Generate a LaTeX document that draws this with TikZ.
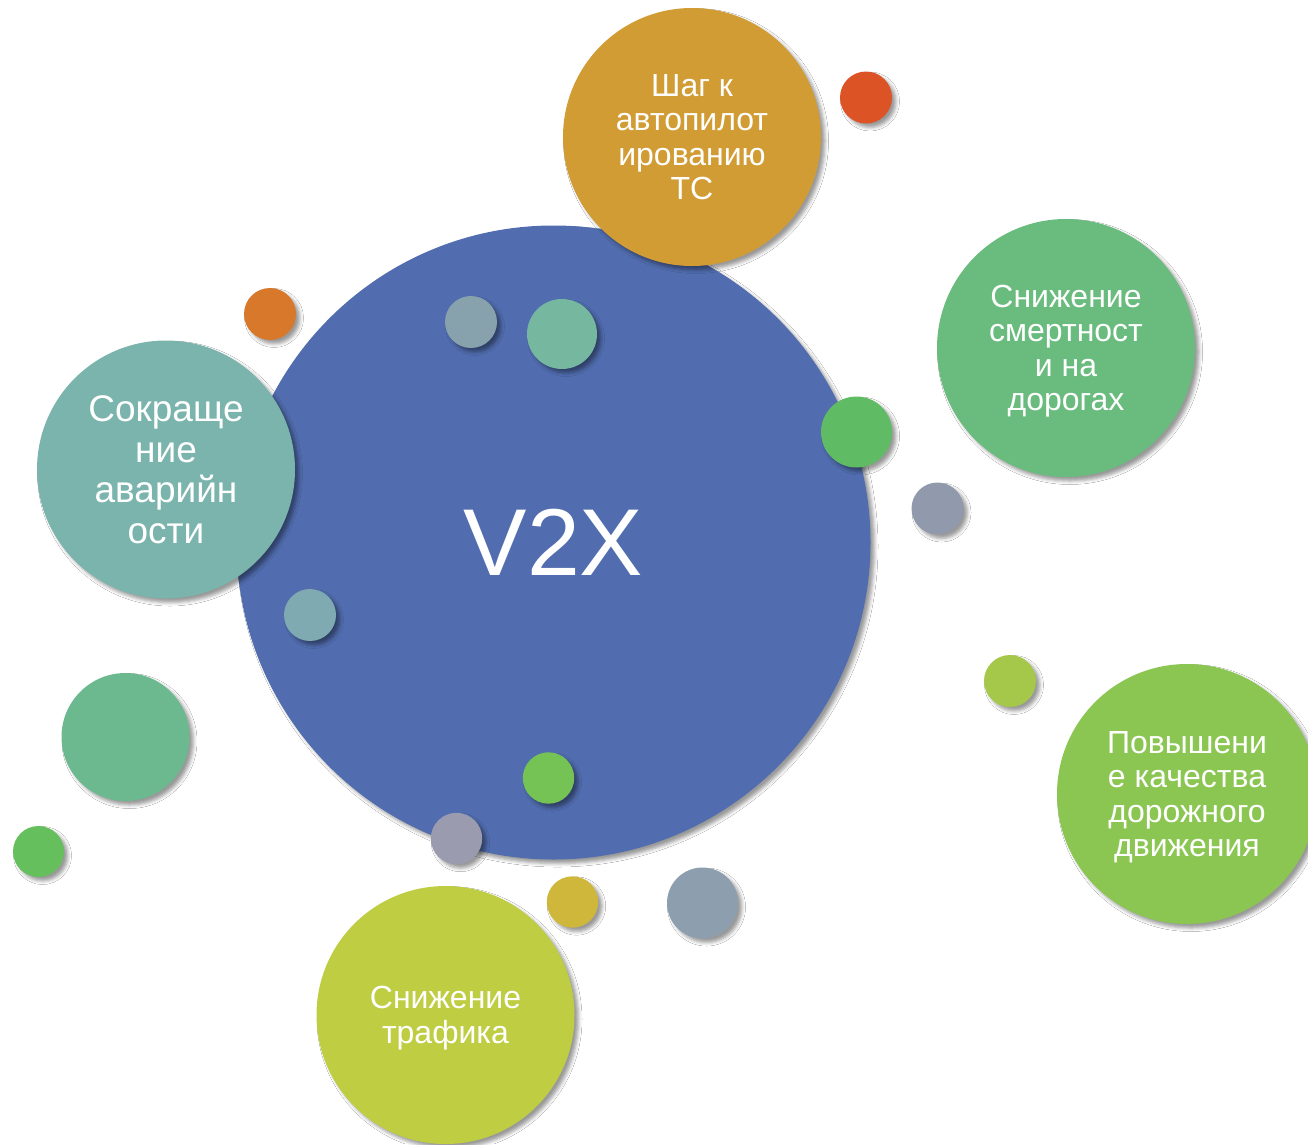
\documentclass[tikz,border=0pt]{standalone}
\usepackage{fontspec}
\setmainfont{Liberation Sans}
\usetikzlibrary{shadows.blur}
\definecolor{cBlue}{HTML}{516DAF}
\definecolor{cOchre}{HTML}{D29C35}
\definecolor{cRed}{HTML}{DC5325}
\definecolor{cGreenA}{HTML}{6ABB7E}
\definecolor{cGreenB}{HTML}{5FBB64}
\definecolor{cGrayA}{HTML}{9199AD}
\definecolor{cLime}{HTML}{A5C84A}
\definecolor{cGreenC}{HTML}{8BC653}
\definecolor{cTealA}{HTML}{7AB4AD}
\definecolor{cOrange}{HTML}{D8782B}
\definecolor{cSlateA}{HTML}{87A2AD}
\definecolor{cTealB}{HTML}{76B7A0}
\definecolor{cTealC}{HTML}{80AAB1}
\definecolor{cGreenD}{HTML}{6CB98F}
\definecolor{cGreenE}{HTML}{64BF5C}
\definecolor{cGreenF}{HTML}{75C255}
\definecolor{cGrayB}{HTML}{9A9BAE}
\definecolor{cYellow}{HTML}{CFB73B}
\definecolor{cSlateB}{HTML}{8D9FAE}
\definecolor{cLimeB}{HTML}{BFCD43}
\begin{document}
\begin{tikzpicture}[x=1pt,y=-1pt,
  ball/.style={circle, inner sep=0pt, minimum size=2*#1,
    blur shadow={shadow xshift=4pt, shadow yshift=-4pt, shadow blur radius=3.5pt, shadow opacity=40}},
  lbl/.style={text=white, align=center, text depth=0pt, font=\fontsize{32}{34.5}\selectfont},
  lblbig/.style={text=white, align=center, text depth=0pt, font=\fontsize{37}{40.7}\selectfont}]
\fill[white] (0,0) rectangle (1308,1144);
\useasboundingbox (0,0) rectangle (1308,1144);
% central circle
\node[ball=317, fill=cBlue, text=white, text depth=0pt, font=\fontsize{95}{100}\selectfont] (v2x) at (553.5,542.5) {V2X};
% labelled circles
\node[ball=129, fill=cOchre, lbl] (auto) at (692,137) {Шаг к\\автопилот\\ированию\\ТС};
\node[ball=129, fill=cGreenA, lbl] (death) at (1066,348) {Снижение\\смертност\\и на\\дорогах};
\node[ball=130, fill=cGreenC, lbl] (quality) at (1187,794) {Повышени\\е качества\\дорожного\\движения};
\node[ball=129, fill=cTealA, lblbig] (acc) at (166,469.5) {Сокраще\\ние\\аварийн\\ости};
\node[ball=129, fill=cLimeB, lbl] (traffic) at (445.5,1015) {Снижение\\трафика};
% small decorative circles
\node[ball=26, fill=cRed] (d1) at (866,97.5) {};
\node[ball=35.5, fill=cGreenB] (d2) at (856.5,432) {};
\node[ball=26, fill=cGrayA] (d3) at (937.5,508.5) {};
\node[ball=26, fill=cLime] (d4) at (1010,681) {};
\node[ball=26, fill=cOrange] (d5) at (270,314) {};
\node[ball=26, fill=cSlateA] (d6) at (471,322) {};
\node[ball=35, fill=cTealB] (d7) at (562,334) {};
\node[ball=26, fill=cTealC] (d8) at (310,615) {};
\node[ball=64, fill=cGreenD] (d9) at (125.5,737) {};
\node[ball=25.5, fill=cGreenE] (d10) at (38.5,851.5) {};
\node[ball=25.7, fill=cGreenF] (d11) at (548.5,778) {};
\node[ball=25.7, fill=cGrayB] (d12) at (456.5,838.5) {};
\node[ball=25.7, fill=cYellow] (d13) at (572.5,902) {};
\node[ball=35.5, fill=cSlateB] (d14) at (702.5,903) {};
\end{tikzpicture}
\end{document}
